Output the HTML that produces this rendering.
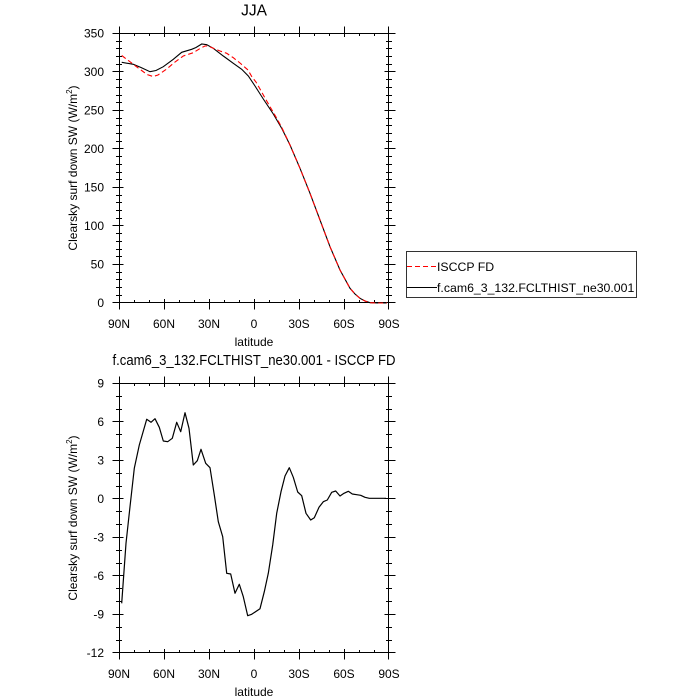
<!DOCTYPE html>
<html>
<head>
<meta charset="utf-8">
<style>
html,body{margin:0;padding:0;background:#fff;}
svg{display:block;}
text{font-family:"Liberation Sans",Helvetica,Arial,sans-serif;fill:#000;}
</style>
</head>
<body>
<svg width="700" height="700" viewBox="0 0 700 700" xmlns="http://www.w3.org/2000/svg">
<rect width="700" height="700" fill="#fff"/>

<!-- ================= TOP PLOT ================= -->
<text x="254" y="15.5" font-size="15.5" text-anchor="middle">JJA</text>

<g stroke="#000" stroke-width="1" fill="none">
  <rect x="119.5" y="33.5" width="269" height="269"/>
</g>

<g stroke="#000" stroke-width="1">
  <path d="M119.5,303v6.5M164.5,303v6.5M209.5,303v6.5M254.5,303v6.5M299.5,303v6.5M344.5,303v6.5M388.5,303v6.5
           M119.5,33v-6.5M164.5,33v-6.5M209.5,33v-6.5M254.5,33v-6.5M299.5,33v-6.5M344.5,33v-6.5M388.5,33v-6.5
           M164.5,303v-4M209.5,303v-4M254.5,303v-4M299.5,303v-4M344.5,303v-4
           M164.5,33v4M209.5,33v4M254.5,33v4M299.5,33v4M344.5,33v4"/>
  <path d="M134.5,303v-3M149.5,303v-3M179.5,303v-3M194.5,303v-3M224.5,303v-3M239.5,303v-3M269.5,303v-3M284.5,303v-3M314.5,303v-3M329.5,303v-3M359.5,303v-3M374.5,303v-3
           M134.5,33v3M149.5,33v3M179.5,33v3M194.5,33v3M224.5,33v3M239.5,33v3M269.5,33v3M284.5,33v3M314.5,33v3M329.5,33v3M359.5,33v3M374.5,33v3"/>
  <path d="M112.5,33.5h11M112.5,71.5h11M112.5,110.5h11M112.5,148.5h11M112.5,187.5h11M112.5,225.5h11M112.5,264.5h11M112.5,302.5h11
           M384.5,33.5h11M384.5,71.5h11M384.5,110.5h11M384.5,148.5h11M384.5,187.5h11M384.5,225.5h11M384.5,264.5h11M384.5,302.5h11"/>
</g>

<g font-size="12" text-anchor="end">
  <text x="104" y="37.5">350</text>
  <text x="104" y="76">300</text>
  <text x="104" y="114.5">250</text>
  <text x="104" y="153">200</text>
  <text x="104" y="191.5">150</text>
  <text x="104" y="230">100</text>
  <text x="104" y="268.5">50</text>
  <text x="104" y="307">0</text>
</g>
<g font-size="12" text-anchor="middle">
  <text x="119" y="328">90N</text>
  <text x="164" y="328">60N</text>
  <text x="209" y="328">30N</text>
  <text x="254" y="328">0</text>
  <text x="299" y="328">30S</text>
  <text x="344" y="328">60S</text>
  <text x="389" y="328">90S</text>
  <text x="254" y="346">latitude</text>
</g>
<text transform="translate(77,168) rotate(-90)" font-size="12" text-anchor="middle">Clearsky surf down SW (W/m<tspan font-size="8" dy="-5">2</tspan><tspan dy="5">)</tspan></text>

<!-- black model -->
<polyline fill="none" stroke="#000" stroke-width="1.1"
 points="121.7,62.3 133.3,64.3 141,67.5 150,71.7 156,70.5 163.3,66.7 173.3,59.3 181.7,52.3 191.7,49.3 196,47.5 201.7,44 206.7,44.7 213.3,48.3 223.3,56 233.3,63.3 241.7,69.3 248.3,76 255,86 263.3,99 273.3,114 281.7,128.3 290,145 300,168.3 310,193.3 320,220 330,246.7 340,270 350,288.3 355,294 360,298.3 365,301 370,302.7 378,303 387,303"/>
<!-- red dashed ISCCP -->
<polyline fill="none" stroke="#ff0000" stroke-width="1.1" stroke-dasharray="5,3"
 points="121.7,55.5 127,59.5 133.3,64.3 141,70 147,74.5 153,76.5 158,75 166.7,69 175,62 183.3,56 193.3,52.7 200,48.5 205,46 208,46 213.3,48.3 220,51 226.7,53.3 233,57.5 240,63 248,70 252,77 256,82 260,89 265,98 270,106.7 276,117 281.7,127.3 290,145 300,168.3 310,193.3 320,220 330,246.7 340,270 350,288.3 355,294 360,298.3 365,301 370,302.7 378,303 387,303"/>

<!-- legend -->
<rect x="406.5" y="251.5" width="230" height="46" fill="#fff" stroke="#000" stroke-width="0.8"/>
<line x1="407" y1="266.5" x2="437" y2="266.5" stroke="#ff0000" stroke-width="1.1" stroke-dasharray="5,3"/>
<line x1="407" y1="287.5" x2="437" y2="287.5" stroke="#000" stroke-width="1.1"/>
<text x="437" y="271" font-size="12.3">ISCCP FD</text>
<text x="437" y="292" font-size="12.3">f.cam6_3_132.FCLTHIST_ne30.001</text>

<!-- ================= BOTTOM PLOT ================= -->
<text x="112.5" y="365" font-size="15" textLength="283" lengthAdjust="spacingAndGlyphs">f.cam6_3_132.FCLTHIST_ne30.001 - ISCCP FD</text>

<g stroke="#000" stroke-width="1" fill="none">
  <rect x="119.5" y="383.5" width="269" height="269"/>
</g>
<g stroke="#000" stroke-width="1">
  <path d="M119.5,653v6.5M164.5,653v6.5M209.5,653v6.5M254.5,653v6.5M299.5,653v6.5M344.5,653v6.5M388.5,653v6.5
           M119.5,383v-6.5M164.5,383v-6.5M209.5,383v-6.5M254.5,383v-6.5M299.5,383v-6.5M344.5,383v-6.5M388.5,383v-6.5
           M164.5,653v-4M209.5,653v-4M254.5,653v-4M299.5,653v-4M344.5,653v-4
           M164.5,383v4M209.5,383v4M254.5,383v4M299.5,383v4M344.5,383v4"/>
  <path d="M134.5,653v-3M149.5,653v-3M179.5,653v-3M194.5,653v-3M224.5,653v-3M239.5,653v-3M269.5,653v-3M284.5,653v-3M314.5,653v-3M329.5,653v-3M359.5,653v-3M374.5,653v-3
           M134.5,383v3M149.5,383v3M179.5,383v3M194.5,383v3M224.5,383v3M239.5,383v3M269.5,383v3M284.5,383v3M314.5,383v3M329.5,383v3M359.5,383v3M374.5,383v3"/>
  <path d="M112.5,383.5h11M112.5,421.5h11M112.5,460.5h11M112.5,498.5h11M112.5,537.5h11M112.5,575.5h11M112.5,614.5h11M112.5,652.5h11
           M384.5,383.5h11M384.5,421.5h11M384.5,460.5h11M384.5,498.5h11M384.5,537.5h11M384.5,575.5h11M384.5,614.5h11M384.5,652.5h11"/>
  <path d="M116,396.5h6M116,409.5h6M116,434.5h6M116,447.5h6M116,473.5h6M116,486.5h6M116,511.5h6M116,524.5h6M116,550.5h6M116,563.5h6M116,588.5h6M116,601.5h6M116,627.5h6M116,640.5h6
           M386,396.5h6M386,409.5h6M386,434.5h6M386,447.5h6M386,473.5h6M386,486.5h6M386,511.5h6M386,524.5h6M386,550.5h6M386,563.5h6M386,588.5h6M386,601.5h6M386,627.5h6M386,640.5h6"/>
  <path d="M116,41.5h6M116,48.5h6M116,56.5h6M116,64.5h6M116,79.5h6M116,87.5h6M116,95.5h6M116,102.5h6M116,118.5h6M116,125.5h6M116,133.5h6M116,141.5h6M116,156.5h6M116,164.5h6M116,172.5h6M116,179.5h6M116,195.5h6M116,202.5h6M116,210.5h6M116,218.5h6M116,233.5h6M116,241.5h6M116,249.5h6M116,256.5h6M116,272.5h6M116,279.5h6M116,287.5h6M116,295.5h6
           M386,41.5h6M386,48.5h6M386,56.5h6M386,64.5h6M386,79.5h6M386,87.5h6M386,95.5h6M386,102.5h6M386,118.5h6M386,125.5h6M386,133.5h6M386,141.5h6M386,156.5h6M386,164.5h6M386,172.5h6M386,179.5h6M386,195.5h6M386,202.5h6M386,210.5h6M386,218.5h6M386,233.5h6M386,241.5h6M386,249.5h6M386,256.5h6M386,272.5h6M386,279.5h6M386,287.5h6M386,295.5h6"/>
</g>

<g font-size="12" text-anchor="end">
  <text x="104" y="387.5">9</text>
  <text x="104" y="426">6</text>
  <text x="104" y="464.5">3</text>
  <text x="104" y="503">0</text>
  <text x="104" y="541.5">-3</text>
  <text x="104" y="580">-6</text>
  <text x="104" y="618.5">-9</text>
  <text x="104" y="657">-12</text>
</g>
<g font-size="12" text-anchor="middle">
  <text x="119" y="678">90N</text>
  <text x="164" y="678">60N</text>
  <text x="209" y="678">30N</text>
  <text x="254" y="678">0</text>
  <text x="299" y="678">30S</text>
  <text x="344" y="678">60S</text>
  <text x="389" y="678">90S</text>
  <text x="254" y="696">latitude</text>
</g>
<text transform="translate(77,518) rotate(-90)" font-size="12" text-anchor="middle">Clearsky surf down SW (W/m<tspan font-size="8" dy="-5">2</tspan><tspan dy="5">)</tspan></text>

<polyline fill="none" stroke="#000" stroke-width="1.2" stroke-linejoin="round"
 points="121.7,603.3 126,543.3 130,506.7 134.3,468.3 139.3,445 146.7,419.3 151,422.3 155,418.7 159.3,427.3 163.3,441 167.7,441.7 172.3,438.3 176.7,422.3 180.7,431.7 185,412.7 189,428.3 193.3,465 197.3,460.7 201,449.3 205.7,463.3 210,467.7 214.3,495 218.3,521.7 222.7,536.7 226.7,573.3 230.7,574 235,593.3 239.3,584.3 243.3,596.7 247.7,615.7 251.7,614.3 260,608.7 264.3,591.7 268.3,573.3 272.7,545 276.7,513.3 281,491.7 285,476 289.3,467.7 293.3,477.3 297.7,492 301.7,495.7 306,513.3 310.7,520 314.3,517.7 319,507.3 323.3,501.7 327.3,500 331.7,492.3 335.7,491 340,496 344,493.3 348.3,491.3 352.3,494 356.7,494.7 360.7,495.3 365,497.3 369.3,498.3 373.3,498.3 386,498.3"/>
</svg>
</body>
</html>
